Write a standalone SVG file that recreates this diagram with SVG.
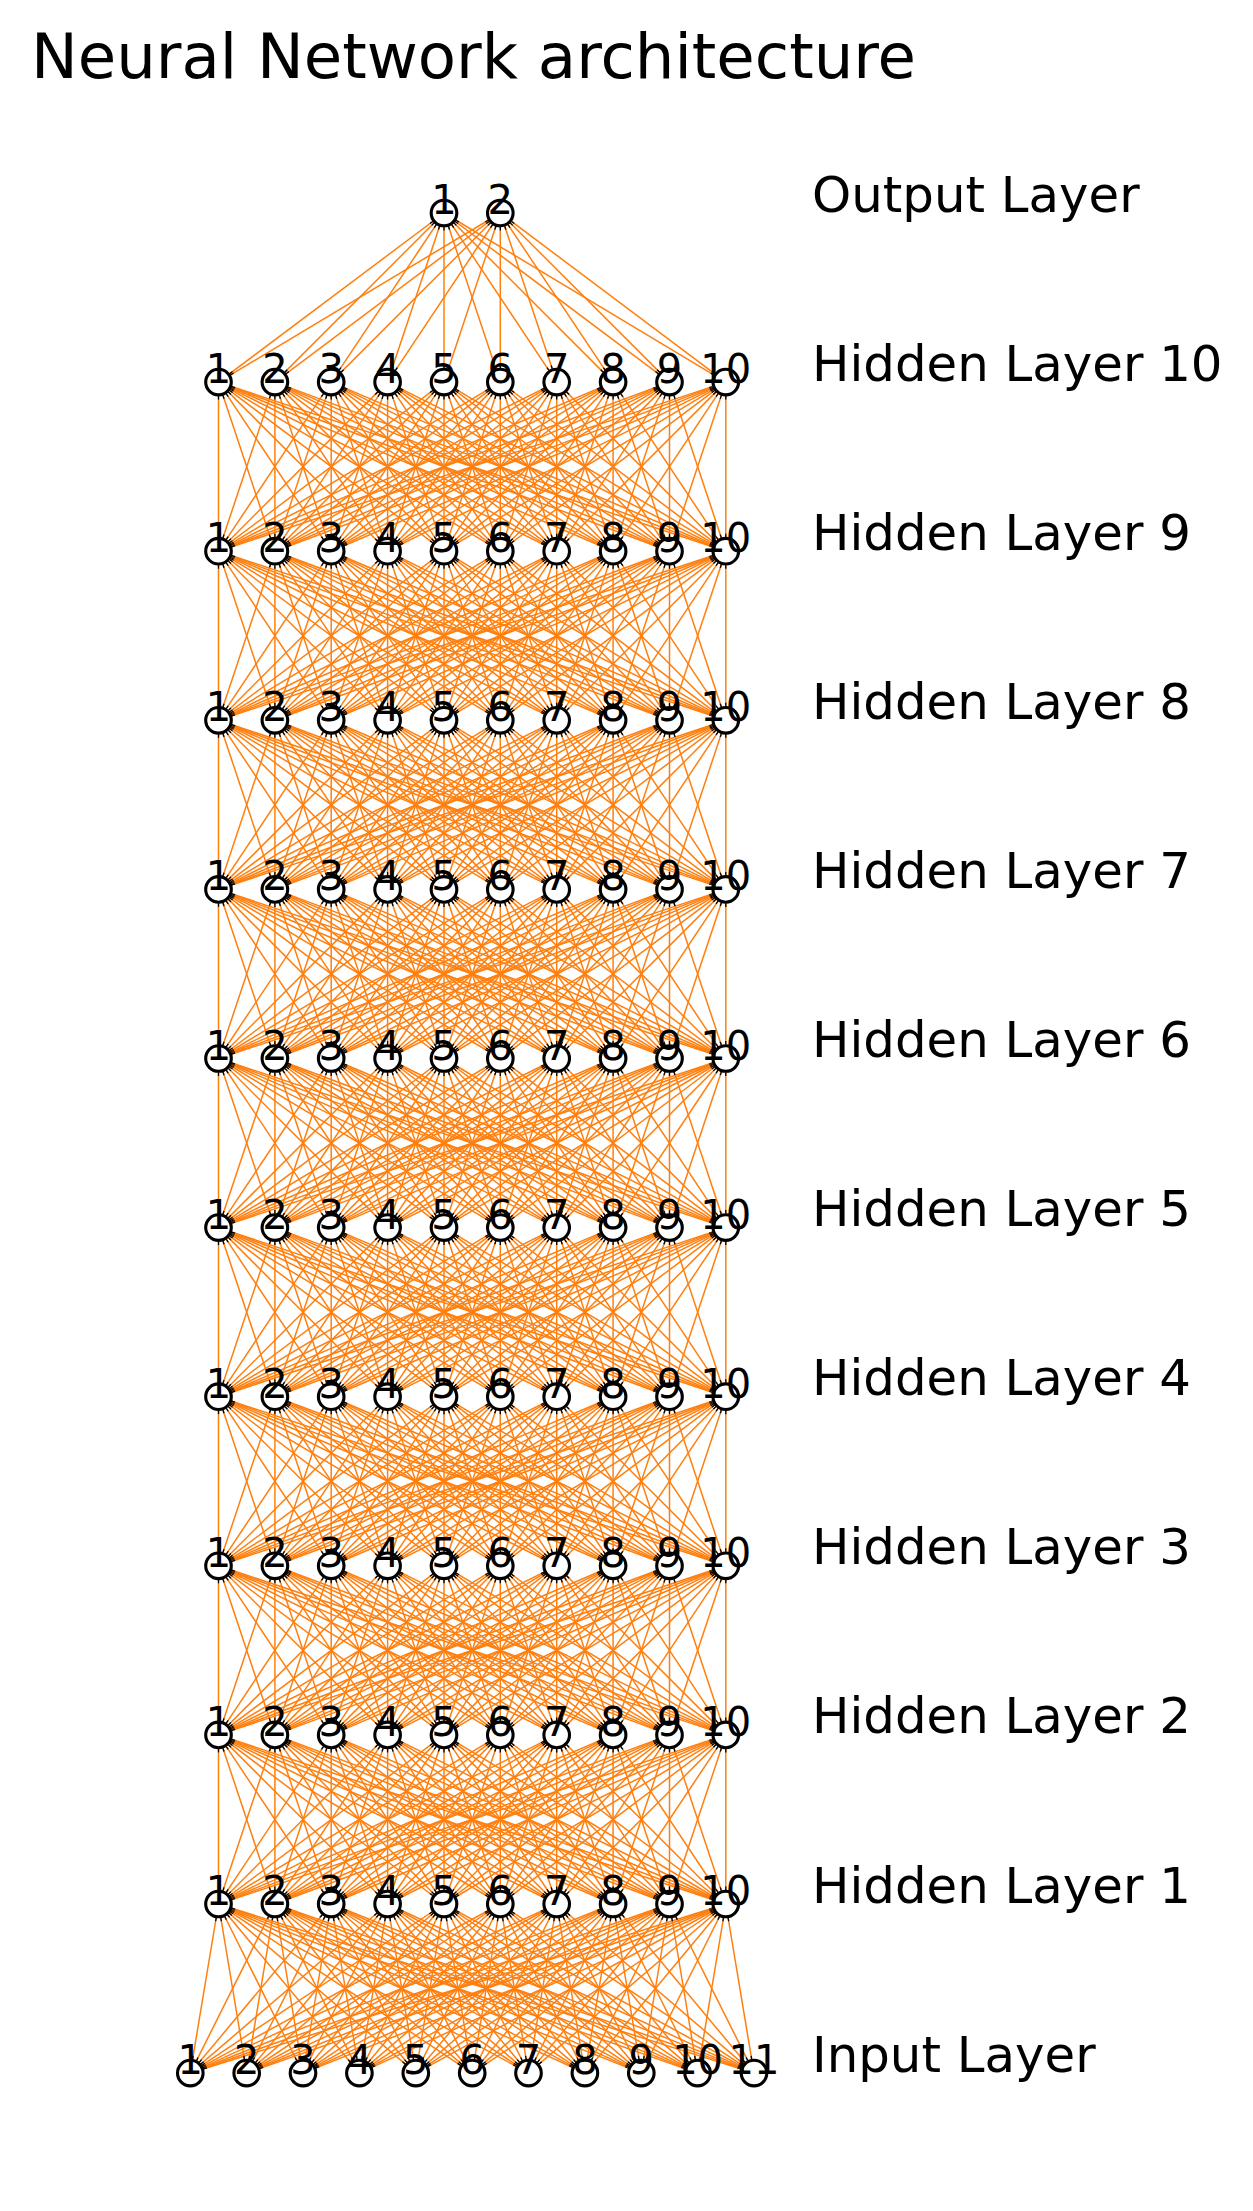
<svg xmlns="http://www.w3.org/2000/svg" xmlns:xlink="http://www.w3.org/1999/xlink" width="1253" height="2211" viewBox="0 0 1253 2211">
<style>
.n circle{fill:#fff;stroke:#000;stroke-width:3.1}
.n text{font-family:"DejaVu Sans",sans-serif;font-size:40px;text-anchor:middle;fill:#000}
.lbl{font-family:"DejaVu Sans",sans-serif;font-size:49.8px;fill:#000}
.title{font-family:"DejaVu Sans",sans-serif;font-size:62.5px;fill:#000}
</style>
<defs>
<marker id="tk" markerUnits="userSpaceOnUse" orient="auto-start-reverse" markerWidth="1" markerHeight="1" overflow="visible"><path d="M-17.5 0H-14" stroke="#000" stroke-width="1.3" fill="none"/></marker>
<g id="hh">
<path d="M218.5 169.1 218.5 0"/><path d="M218.5 169.1 274.9 0"/><path d="M218.5 169.1 331.2 0"/><path d="M218.5 169.1 387.6 0"/><path d="M218.5 169.1 444 0"/><path d="M218.5 169.1 500.3 0"/><path d="M218.5 169.1 556.7 0"/><path d="M218.5 169.1 613.1 0"/><path d="M218.5 169.1 669.5 0"/><path d="M218.5 169.1 725.8 0"/>
<path d="M274.9 169.1 218.5 0"/><path d="M274.9 169.1 274.9 0"/><path d="M274.9 169.1 331.2 0"/><path d="M274.9 169.1 387.6 0"/><path d="M274.9 169.1 444 0"/><path d="M274.9 169.1 500.3 0"/><path d="M274.9 169.1 556.7 0"/><path d="M274.9 169.1 613.1 0"/><path d="M274.9 169.1 669.5 0"/><path d="M274.9 169.1 725.8 0"/>
<path d="M331.2 169.1 218.5 0"/><path d="M331.2 169.1 274.9 0"/><path d="M331.2 169.1 331.2 0"/><path d="M331.2 169.1 387.6 0"/><path d="M331.2 169.1 444 0"/><path d="M331.2 169.1 500.3 0"/><path d="M331.2 169.1 556.7 0"/><path d="M331.2 169.1 613.1 0"/><path d="M331.2 169.1 669.5 0"/><path d="M331.2 169.1 725.8 0"/>
<path d="M387.6 169.1 218.5 0"/><path d="M387.6 169.1 274.9 0"/><path d="M387.6 169.1 331.2 0"/><path d="M387.6 169.1 387.6 0"/><path d="M387.6 169.1 444 0"/><path d="M387.6 169.1 500.3 0"/><path d="M387.6 169.1 556.7 0"/><path d="M387.6 169.1 613.1 0"/><path d="M387.6 169.1 669.5 0"/><path d="M387.6 169.1 725.8 0"/>
<path d="M444 169.1 218.5 0"/><path d="M444 169.1 274.9 0"/><path d="M444 169.1 331.2 0"/><path d="M444 169.1 387.6 0"/><path d="M444 169.1 444 0"/><path d="M444 169.1 500.3 0"/><path d="M444 169.1 556.7 0"/><path d="M444 169.1 613.1 0"/><path d="M444 169.1 669.5 0"/><path d="M444 169.1 725.8 0"/>
<path d="M500.3 169.1 218.5 0"/><path d="M500.3 169.1 274.9 0"/><path d="M500.3 169.1 331.2 0"/><path d="M500.3 169.1 387.6 0"/><path d="M500.3 169.1 444 0"/><path d="M500.3 169.1 500.3 0"/><path d="M500.3 169.1 556.7 0"/><path d="M500.3 169.1 613.1 0"/><path d="M500.3 169.1 669.5 0"/><path d="M500.3 169.1 725.8 0"/>
<path d="M556.7 169.1 218.5 0"/><path d="M556.7 169.1 274.9 0"/><path d="M556.7 169.1 331.2 0"/><path d="M556.7 169.1 387.6 0"/><path d="M556.7 169.1 444 0"/><path d="M556.7 169.1 500.3 0"/><path d="M556.7 169.1 556.7 0"/><path d="M556.7 169.1 613.1 0"/><path d="M556.7 169.1 669.5 0"/><path d="M556.7 169.1 725.8 0"/>
<path d="M613.1 169.1 218.5 0"/><path d="M613.1 169.1 274.9 0"/><path d="M613.1 169.1 331.2 0"/><path d="M613.1 169.1 387.6 0"/><path d="M613.1 169.1 444 0"/><path d="M613.1 169.1 500.3 0"/><path d="M613.1 169.1 556.7 0"/><path d="M613.1 169.1 613.1 0"/><path d="M613.1 169.1 669.5 0"/><path d="M613.1 169.1 725.8 0"/>
<path d="M669.5 169.1 218.5 0"/><path d="M669.5 169.1 274.9 0"/><path d="M669.5 169.1 331.2 0"/><path d="M669.5 169.1 387.6 0"/><path d="M669.5 169.1 444 0"/><path d="M669.5 169.1 500.3 0"/><path d="M669.5 169.1 556.7 0"/><path d="M669.5 169.1 613.1 0"/><path d="M669.5 169.1 669.5 0"/><path d="M669.5 169.1 725.8 0"/>
<path d="M725.8 169.1 218.5 0"/><path d="M725.8 169.1 274.9 0"/><path d="M725.8 169.1 331.2 0"/><path d="M725.8 169.1 387.6 0"/><path d="M725.8 169.1 444 0"/><path d="M725.8 169.1 500.3 0"/><path d="M725.8 169.1 556.7 0"/><path d="M725.8 169.1 613.1 0"/><path d="M725.8 169.1 669.5 0"/><path d="M725.8 169.1 725.8 0"/>
</g>
</defs>
<rect width="1253" height="2211" fill="#fff"/>
<text class="title" x="31" y="78">Neural Network architecture</text>
<g id="connectors" stroke="#ff7f0e" stroke-width="1.5" fill="none" marker-start="url(#tk)" marker-end="url(#tk)">
<g id="e-in-h1" transform="translate(0,1904)">
<path d="M190.3 169.1 218.5 0"/><path d="M190.3 169.1 274.9 0"/><path d="M190.3 169.1 331.2 0"/><path d="M190.3 169.1 387.6 0"/><path d="M190.3 169.1 444 0"/><path d="M190.3 169.1 500.3 0"/><path d="M190.3 169.1 556.7 0"/><path d="M190.3 169.1 613.1 0"/><path d="M190.3 169.1 669.5 0"/><path d="M190.3 169.1 725.8 0"/>
<path d="M246.7 169.1 218.5 0"/><path d="M246.7 169.1 274.9 0"/><path d="M246.7 169.1 331.2 0"/><path d="M246.7 169.1 387.6 0"/><path d="M246.7 169.1 444 0"/><path d="M246.7 169.1 500.3 0"/><path d="M246.7 169.1 556.7 0"/><path d="M246.7 169.1 613.1 0"/><path d="M246.7 169.1 669.5 0"/><path d="M246.7 169.1 725.8 0"/>
<path d="M303 169.1 218.5 0"/><path d="M303 169.1 274.9 0"/><path d="M303 169.1 331.2 0"/><path d="M303 169.1 387.6 0"/><path d="M303 169.1 444 0"/><path d="M303 169.1 500.3 0"/><path d="M303 169.1 556.7 0"/><path d="M303 169.1 613.1 0"/><path d="M303 169.1 669.5 0"/><path d="M303 169.1 725.8 0"/>
<path d="M359.4 169.1 218.5 0"/><path d="M359.4 169.1 274.9 0"/><path d="M359.4 169.1 331.2 0"/><path d="M359.4 169.1 387.6 0"/><path d="M359.4 169.1 444 0"/><path d="M359.4 169.1 500.3 0"/><path d="M359.4 169.1 556.7 0"/><path d="M359.4 169.1 613.1 0"/><path d="M359.4 169.1 669.5 0"/><path d="M359.4 169.1 725.8 0"/>
<path d="M415.8 169.1 218.5 0"/><path d="M415.8 169.1 274.9 0"/><path d="M415.8 169.1 331.2 0"/><path d="M415.8 169.1 387.6 0"/><path d="M415.8 169.1 444 0"/><path d="M415.8 169.1 500.3 0"/><path d="M415.8 169.1 556.7 0"/><path d="M415.8 169.1 613.1 0"/><path d="M415.8 169.1 669.5 0"/><path d="M415.8 169.1 725.8 0"/>
<path d="M472.2 169.1 218.5 0"/><path d="M472.2 169.1 274.9 0"/><path d="M472.2 169.1 331.2 0"/><path d="M472.2 169.1 387.6 0"/><path d="M472.2 169.1 444 0"/><path d="M472.2 169.1 500.3 0"/><path d="M472.2 169.1 556.7 0"/><path d="M472.2 169.1 613.1 0"/><path d="M472.2 169.1 669.5 0"/><path d="M472.2 169.1 725.8 0"/>
<path d="M528.5 169.1 218.5 0"/><path d="M528.5 169.1 274.9 0"/><path d="M528.5 169.1 331.2 0"/><path d="M528.5 169.1 387.6 0"/><path d="M528.5 169.1 444 0"/><path d="M528.5 169.1 500.3 0"/><path d="M528.5 169.1 556.7 0"/><path d="M528.5 169.1 613.1 0"/><path d="M528.5 169.1 669.5 0"/><path d="M528.5 169.1 725.8 0"/>
<path d="M584.9 169.1 218.5 0"/><path d="M584.9 169.1 274.9 0"/><path d="M584.9 169.1 331.2 0"/><path d="M584.9 169.1 387.6 0"/><path d="M584.9 169.1 444 0"/><path d="M584.9 169.1 500.3 0"/><path d="M584.9 169.1 556.7 0"/><path d="M584.9 169.1 613.1 0"/><path d="M584.9 169.1 669.5 0"/><path d="M584.9 169.1 725.8 0"/>
<path d="M641.3 169.1 218.5 0"/><path d="M641.3 169.1 274.9 0"/><path d="M641.3 169.1 331.2 0"/><path d="M641.3 169.1 387.6 0"/><path d="M641.3 169.1 444 0"/><path d="M641.3 169.1 500.3 0"/><path d="M641.3 169.1 556.7 0"/><path d="M641.3 169.1 613.1 0"/><path d="M641.3 169.1 669.5 0"/><path d="M641.3 169.1 725.8 0"/>
<path d="M697.6 169.1 218.5 0"/><path d="M697.6 169.1 274.9 0"/><path d="M697.6 169.1 331.2 0"/><path d="M697.6 169.1 387.6 0"/><path d="M697.6 169.1 444 0"/><path d="M697.6 169.1 500.3 0"/><path d="M697.6 169.1 556.7 0"/><path d="M697.6 169.1 613.1 0"/><path d="M697.6 169.1 669.5 0"/><path d="M697.6 169.1 725.8 0"/>
<path d="M754 169.1 218.5 0"/><path d="M754 169.1 274.9 0"/><path d="M754 169.1 331.2 0"/><path d="M754 169.1 387.6 0"/><path d="M754 169.1 444 0"/><path d="M754 169.1 500.3 0"/><path d="M754 169.1 556.7 0"/><path d="M754 169.1 613.1 0"/><path d="M754 169.1 669.5 0"/><path d="M754 169.1 725.8 0"/>
</g>
<use xlink:href="#hh" href="#hh" transform="translate(0,1734.9)"/>
<use xlink:href="#hh" href="#hh" transform="translate(0,1565.8)"/>
<use xlink:href="#hh" href="#hh" transform="translate(0,1396.7)"/>
<use xlink:href="#hh" href="#hh" transform="translate(0,1227.6)"/>
<use xlink:href="#hh" href="#hh" transform="translate(0,1058.5)"/>
<use xlink:href="#hh" href="#hh" transform="translate(0,889.4)"/>
<use xlink:href="#hh" href="#hh" transform="translate(0,720.3)"/>
<use xlink:href="#hh" href="#hh" transform="translate(0,551.2)"/>
<use xlink:href="#hh" href="#hh" transform="translate(0,382.1)"/>
<g id="e-h10-out" transform="translate(0,213)">
<path d="M218.5 169.1 444 0"/><path d="M218.5 169.1 500.3 0"/><path d="M274.9 169.1 444 0"/><path d="M274.9 169.1 500.3 0"/><path d="M331.2 169.1 444 0"/><path d="M331.2 169.1 500.3 0"/><path d="M387.6 169.1 444 0"/><path d="M387.6 169.1 500.3 0"/><path d="M444 169.1 444 0"/><path d="M444 169.1 500.3 0"/><path d="M500.3 169.1 444 0"/><path d="M500.3 169.1 500.3 0"/><path d="M556.7 169.1 444 0"/><path d="M556.7 169.1 500.3 0"/><path d="M613.1 169.1 444 0"/><path d="M613.1 169.1 500.3 0"/><path d="M669.5 169.1 444 0"/><path d="M669.5 169.1 500.3 0"/><path d="M725.8 169.1 444 0"/><path d="M725.8 169.1 500.3 0"/>
</g>
</g>
<g id="nodes" class="n">
<g id="out-1"><circle cx="444" cy="213" r="12.8"/><text x="444" y="214">1</text></g>
<g id="out-2"><circle cx="500.3" cy="213" r="12.8"/><text x="500.3" y="214">2</text></g>
<g id="h10-1"><circle cx="218.5" cy="382.1" r="12.8"/><text x="218.5" y="383.1">1</text></g>
<g id="h10-2"><circle cx="274.9" cy="382.1" r="12.8"/><text x="274.9" y="383.1">2</text></g>
<g id="h10-3"><circle cx="331.2" cy="382.1" r="12.8"/><text x="331.2" y="383.1">3</text></g>
<g id="h10-4"><circle cx="387.6" cy="382.1" r="12.8"/><text x="387.6" y="383.1">4</text></g>
<g id="h10-5"><circle cx="444" cy="382.1" r="12.8"/><text x="444" y="383.1">5</text></g>
<g id="h10-6"><circle cx="500.3" cy="382.1" r="12.8"/><text x="500.3" y="383.1">6</text></g>
<g id="h10-7"><circle cx="556.7" cy="382.1" r="12.8"/><text x="556.7" y="383.1">7</text></g>
<g id="h10-8"><circle cx="613.1" cy="382.1" r="12.8"/><text x="613.1" y="383.1">8</text></g>
<g id="h10-9"><circle cx="669.5" cy="382.1" r="12.8"/><text x="669.5" y="383.1">9</text></g>
<g id="h10-10"><circle cx="725.8" cy="382.1" r="12.8"/><text x="725.8" y="383.1">10</text></g>
<g id="h9-1"><circle cx="218.5" cy="551.2" r="12.8"/><text x="218.5" y="552.2">1</text></g>
<g id="h9-2"><circle cx="274.9" cy="551.2" r="12.8"/><text x="274.9" y="552.2">2</text></g>
<g id="h9-3"><circle cx="331.2" cy="551.2" r="12.8"/><text x="331.2" y="552.2">3</text></g>
<g id="h9-4"><circle cx="387.6" cy="551.2" r="12.8"/><text x="387.6" y="552.2">4</text></g>
<g id="h9-5"><circle cx="444" cy="551.2" r="12.8"/><text x="444" y="552.2">5</text></g>
<g id="h9-6"><circle cx="500.3" cy="551.2" r="12.8"/><text x="500.3" y="552.2">6</text></g>
<g id="h9-7"><circle cx="556.7" cy="551.2" r="12.8"/><text x="556.7" y="552.2">7</text></g>
<g id="h9-8"><circle cx="613.1" cy="551.2" r="12.8"/><text x="613.1" y="552.2">8</text></g>
<g id="h9-9"><circle cx="669.5" cy="551.2" r="12.8"/><text x="669.5" y="552.2">9</text></g>
<g id="h9-10"><circle cx="725.8" cy="551.2" r="12.8"/><text x="725.8" y="552.2">10</text></g>
<g id="h8-1"><circle cx="218.5" cy="720.3" r="12.8"/><text x="218.5" y="721.3">1</text></g>
<g id="h8-2"><circle cx="274.9" cy="720.3" r="12.8"/><text x="274.9" y="721.3">2</text></g>
<g id="h8-3"><circle cx="331.2" cy="720.3" r="12.8"/><text x="331.2" y="721.3">3</text></g>
<g id="h8-4"><circle cx="387.6" cy="720.3" r="12.8"/><text x="387.6" y="721.3">4</text></g>
<g id="h8-5"><circle cx="444" cy="720.3" r="12.8"/><text x="444" y="721.3">5</text></g>
<g id="h8-6"><circle cx="500.3" cy="720.3" r="12.8"/><text x="500.3" y="721.3">6</text></g>
<g id="h8-7"><circle cx="556.7" cy="720.3" r="12.8"/><text x="556.7" y="721.3">7</text></g>
<g id="h8-8"><circle cx="613.1" cy="720.3" r="12.8"/><text x="613.1" y="721.3">8</text></g>
<g id="h8-9"><circle cx="669.5" cy="720.3" r="12.8"/><text x="669.5" y="721.3">9</text></g>
<g id="h8-10"><circle cx="725.8" cy="720.3" r="12.8"/><text x="725.8" y="721.3">10</text></g>
<g id="h7-1"><circle cx="218.5" cy="889.4" r="12.8"/><text x="218.5" y="890.4">1</text></g>
<g id="h7-2"><circle cx="274.9" cy="889.4" r="12.8"/><text x="274.9" y="890.4">2</text></g>
<g id="h7-3"><circle cx="331.2" cy="889.4" r="12.8"/><text x="331.2" y="890.4">3</text></g>
<g id="h7-4"><circle cx="387.6" cy="889.4" r="12.8"/><text x="387.6" y="890.4">4</text></g>
<g id="h7-5"><circle cx="444" cy="889.4" r="12.8"/><text x="444" y="890.4">5</text></g>
<g id="h7-6"><circle cx="500.3" cy="889.4" r="12.8"/><text x="500.3" y="890.4">6</text></g>
<g id="h7-7"><circle cx="556.7" cy="889.4" r="12.8"/><text x="556.7" y="890.4">7</text></g>
<g id="h7-8"><circle cx="613.1" cy="889.4" r="12.8"/><text x="613.1" y="890.4">8</text></g>
<g id="h7-9"><circle cx="669.5" cy="889.4" r="12.8"/><text x="669.5" y="890.4">9</text></g>
<g id="h7-10"><circle cx="725.8" cy="889.4" r="12.8"/><text x="725.8" y="890.4">10</text></g>
<g id="h6-1"><circle cx="218.5" cy="1058.5" r="12.8"/><text x="218.5" y="1059.5">1</text></g>
<g id="h6-2"><circle cx="274.9" cy="1058.5" r="12.8"/><text x="274.9" y="1059.5">2</text></g>
<g id="h6-3"><circle cx="331.2" cy="1058.5" r="12.8"/><text x="331.2" y="1059.5">3</text></g>
<g id="h6-4"><circle cx="387.6" cy="1058.5" r="12.8"/><text x="387.6" y="1059.5">4</text></g>
<g id="h6-5"><circle cx="444" cy="1058.5" r="12.8"/><text x="444" y="1059.5">5</text></g>
<g id="h6-6"><circle cx="500.3" cy="1058.5" r="12.8"/><text x="500.3" y="1059.5">6</text></g>
<g id="h6-7"><circle cx="556.7" cy="1058.5" r="12.8"/><text x="556.7" y="1059.5">7</text></g>
<g id="h6-8"><circle cx="613.1" cy="1058.5" r="12.8"/><text x="613.1" y="1059.5">8</text></g>
<g id="h6-9"><circle cx="669.5" cy="1058.5" r="12.8"/><text x="669.5" y="1059.5">9</text></g>
<g id="h6-10"><circle cx="725.8" cy="1058.5" r="12.8"/><text x="725.8" y="1059.5">10</text></g>
<g id="h5-1"><circle cx="218.5" cy="1227.6" r="12.8"/><text x="218.5" y="1228.6">1</text></g>
<g id="h5-2"><circle cx="274.9" cy="1227.6" r="12.8"/><text x="274.9" y="1228.6">2</text></g>
<g id="h5-3"><circle cx="331.2" cy="1227.6" r="12.8"/><text x="331.2" y="1228.6">3</text></g>
<g id="h5-4"><circle cx="387.6" cy="1227.6" r="12.8"/><text x="387.6" y="1228.6">4</text></g>
<g id="h5-5"><circle cx="444" cy="1227.6" r="12.8"/><text x="444" y="1228.6">5</text></g>
<g id="h5-6"><circle cx="500.3" cy="1227.6" r="12.8"/><text x="500.3" y="1228.6">6</text></g>
<g id="h5-7"><circle cx="556.7" cy="1227.6" r="12.8"/><text x="556.7" y="1228.6">7</text></g>
<g id="h5-8"><circle cx="613.1" cy="1227.6" r="12.8"/><text x="613.1" y="1228.6">8</text></g>
<g id="h5-9"><circle cx="669.5" cy="1227.6" r="12.8"/><text x="669.5" y="1228.6">9</text></g>
<g id="h5-10"><circle cx="725.8" cy="1227.6" r="12.8"/><text x="725.8" y="1228.6">10</text></g>
<g id="h4-1"><circle cx="218.5" cy="1396.7" r="12.8"/><text x="218.5" y="1397.7">1</text></g>
<g id="h4-2"><circle cx="274.9" cy="1396.7" r="12.8"/><text x="274.9" y="1397.7">2</text></g>
<g id="h4-3"><circle cx="331.2" cy="1396.7" r="12.8"/><text x="331.2" y="1397.7">3</text></g>
<g id="h4-4"><circle cx="387.6" cy="1396.7" r="12.8"/><text x="387.6" y="1397.7">4</text></g>
<g id="h4-5"><circle cx="444" cy="1396.7" r="12.8"/><text x="444" y="1397.7">5</text></g>
<g id="h4-6"><circle cx="500.3" cy="1396.7" r="12.8"/><text x="500.3" y="1397.7">6</text></g>
<g id="h4-7"><circle cx="556.7" cy="1396.7" r="12.8"/><text x="556.7" y="1397.7">7</text></g>
<g id="h4-8"><circle cx="613.1" cy="1396.7" r="12.8"/><text x="613.1" y="1397.7">8</text></g>
<g id="h4-9"><circle cx="669.5" cy="1396.7" r="12.8"/><text x="669.5" y="1397.7">9</text></g>
<g id="h4-10"><circle cx="725.8" cy="1396.7" r="12.8"/><text x="725.8" y="1397.7">10</text></g>
<g id="h3-1"><circle cx="218.5" cy="1565.8" r="12.8"/><text x="218.5" y="1566.8">1</text></g>
<g id="h3-2"><circle cx="274.9" cy="1565.8" r="12.8"/><text x="274.9" y="1566.8">2</text></g>
<g id="h3-3"><circle cx="331.2" cy="1565.8" r="12.8"/><text x="331.2" y="1566.8">3</text></g>
<g id="h3-4"><circle cx="387.6" cy="1565.8" r="12.8"/><text x="387.6" y="1566.8">4</text></g>
<g id="h3-5"><circle cx="444" cy="1565.8" r="12.8"/><text x="444" y="1566.8">5</text></g>
<g id="h3-6"><circle cx="500.3" cy="1565.8" r="12.8"/><text x="500.3" y="1566.8">6</text></g>
<g id="h3-7"><circle cx="556.7" cy="1565.8" r="12.8"/><text x="556.7" y="1566.8">7</text></g>
<g id="h3-8"><circle cx="613.1" cy="1565.8" r="12.8"/><text x="613.1" y="1566.8">8</text></g>
<g id="h3-9"><circle cx="669.5" cy="1565.8" r="12.8"/><text x="669.5" y="1566.8">9</text></g>
<g id="h3-10"><circle cx="725.8" cy="1565.8" r="12.8"/><text x="725.8" y="1566.8">10</text></g>
<g id="h2-1"><circle cx="218.5" cy="1734.9" r="12.8"/><text x="218.5" y="1735.9">1</text></g>
<g id="h2-2"><circle cx="274.9" cy="1734.9" r="12.8"/><text x="274.9" y="1735.9">2</text></g>
<g id="h2-3"><circle cx="331.2" cy="1734.9" r="12.8"/><text x="331.2" y="1735.9">3</text></g>
<g id="h2-4"><circle cx="387.6" cy="1734.9" r="12.8"/><text x="387.6" y="1735.9">4</text></g>
<g id="h2-5"><circle cx="444" cy="1734.9" r="12.8"/><text x="444" y="1735.9">5</text></g>
<g id="h2-6"><circle cx="500.3" cy="1734.9" r="12.8"/><text x="500.3" y="1735.9">6</text></g>
<g id="h2-7"><circle cx="556.7" cy="1734.9" r="12.8"/><text x="556.7" y="1735.9">7</text></g>
<g id="h2-8"><circle cx="613.1" cy="1734.9" r="12.8"/><text x="613.1" y="1735.9">8</text></g>
<g id="h2-9"><circle cx="669.5" cy="1734.9" r="12.8"/><text x="669.5" y="1735.9">9</text></g>
<g id="h2-10"><circle cx="725.8" cy="1734.9" r="12.8"/><text x="725.8" y="1735.9">10</text></g>
<g id="h1-1"><circle cx="218.5" cy="1904" r="12.8"/><text x="218.5" y="1905">1</text></g>
<g id="h1-2"><circle cx="274.9" cy="1904" r="12.8"/><text x="274.9" y="1905">2</text></g>
<g id="h1-3"><circle cx="331.2" cy="1904" r="12.8"/><text x="331.2" y="1905">3</text></g>
<g id="h1-4"><circle cx="387.6" cy="1904" r="12.8"/><text x="387.6" y="1905">4</text></g>
<g id="h1-5"><circle cx="444" cy="1904" r="12.8"/><text x="444" y="1905">5</text></g>
<g id="h1-6"><circle cx="500.3" cy="1904" r="12.8"/><text x="500.3" y="1905">6</text></g>
<g id="h1-7"><circle cx="556.7" cy="1904" r="12.8"/><text x="556.7" y="1905">7</text></g>
<g id="h1-8"><circle cx="613.1" cy="1904" r="12.8"/><text x="613.1" y="1905">8</text></g>
<g id="h1-9"><circle cx="669.5" cy="1904" r="12.8"/><text x="669.5" y="1905">9</text></g>
<g id="h1-10"><circle cx="725.8" cy="1904" r="12.8"/><text x="725.8" y="1905">10</text></g>
<g id="in-1"><circle cx="190.3" cy="2073.1" r="12.8"/><text x="190.3" y="2074.1">1</text></g>
<g id="in-2"><circle cx="246.7" cy="2073.1" r="12.8"/><text x="246.7" y="2074.1">2</text></g>
<g id="in-3"><circle cx="303" cy="2073.1" r="12.8"/><text x="303" y="2074.1">3</text></g>
<g id="in-4"><circle cx="359.4" cy="2073.1" r="12.8"/><text x="359.4" y="2074.1">4</text></g>
<g id="in-5"><circle cx="415.8" cy="2073.1" r="12.8"/><text x="415.8" y="2074.1">5</text></g>
<g id="in-6"><circle cx="472.2" cy="2073.1" r="12.8"/><text x="472.2" y="2074.1">6</text></g>
<g id="in-7"><circle cx="528.5" cy="2073.1" r="12.8"/><text x="528.5" y="2074.1">7</text></g>
<g id="in-8"><circle cx="584.9" cy="2073.1" r="12.8"/><text x="584.9" y="2074.1">8</text></g>
<g id="in-9"><circle cx="641.3" cy="2073.1" r="12.8"/><text x="641.3" y="2074.1">9</text></g>
<g id="in-10"><circle cx="697.6" cy="2073.1" r="12.8"/><text x="697.6" y="2074.1">10</text></g>
<g id="in-11"><circle cx="754" cy="2073.1" r="12.8"/><text x="754" y="2074.1">11</text></g>
</g>
<g id="layer-labels" class="lbl">
<text x="812" y="211.5">Output Layer</text>
<text x="812" y="380.6">Hidden Layer 10</text>
<text x="812" y="549.7">Hidden Layer 9</text>
<text x="812" y="718.8">Hidden Layer 8</text>
<text x="812" y="887.9">Hidden Layer 7</text>
<text x="812" y="1057">Hidden Layer 6</text>
<text x="812" y="1226.1">Hidden Layer 5</text>
<text x="812" y="1395.2">Hidden Layer 4</text>
<text x="812" y="1564.3">Hidden Layer 3</text>
<text x="812" y="1733.4">Hidden Layer 2</text>
<text x="812" y="1902.5">Hidden Layer 1</text>
<text x="812" y="2071.6">Input Layer</text>
</g>
</svg>
